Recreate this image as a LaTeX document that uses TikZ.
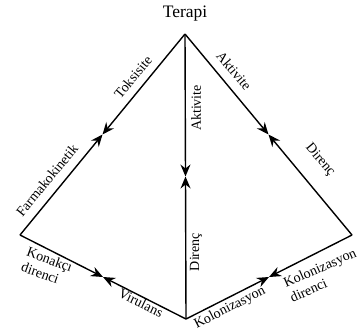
\documentclass[tikz,border=0pt]{standalone}
\usepackage{fontspec}
\setmainfont{Liberation Serif}
\usetikzlibrary{arrows.meta,calc}
\begin{document}
\begin{tikzpicture}[x=1pt,y=-1pt,
  edge/.style={line width=1.4pt},
  arw/.style={edge,-{Stealth[length=12pt,width=10pt,inset=4pt]}},
  lbl/.style={font=\fontsize{14}{16}\selectfont,inner sep=0pt},
  ttl/.style={font=\fontsize{17.5}{20}\selectfont,inner sep=0pt}]
\useasboundingbox (0,0) rectangle (358,330);
\coordinate (T) at (185,34);
\coordinate (L) at (20,235);
\coordinate (B) at (186,319);
\coordinate (R) at (352,235);
\coordinate (mTL) at ($(T)!0.5!(L)$);
\coordinate (mTR) at ($(T)!0.5!(R)$);
\coordinate (mTB) at ($(T)!0.5!(B)$);
\coordinate (mLB) at ($(L)!0.5!(B)$);
\coordinate (mBR) at ($(B)!0.5!(R)$);
\draw[arw] (T) -- (mTL);
\draw[arw] (L) -- (mTL);
\draw[arw] (T) -- (mTR);
\draw[arw] (R) -- (mTR);
\draw[arw] (T) -- (mTB);
\draw[arw] (B) -- (mTB);
\draw[arw] (L) -- (mLB);
\draw[arw] (B) -- (mLB);
\draw[arw] (B) -- (mBR);
\draw[arw] (R) -- (mBR);
\node[ttl] (terapi) at (185,14) {Terapi};
\node[lbl,rotate=50.5] (tok) at (133,77) {Toksisite};
\node[lbl,rotate=50.5] (far) at (47,180) {Farmakokinetik};
\node[lbl,rotate=-50] (akt1) at (234,71) {Aktivite};
\node[lbl,rotate=-50] (dir1) at (320,160) {Direnç};
\node[lbl,rotate=90] (akt2) at (196,108) {Aktivite};
\node[lbl,rotate=90] (dir2) at (196,252) {Direnç};
\node[lbl,rotate=-20,align=left] (kon) at (47,267) {Konakçı\\direnci};
\node[lbl,rotate=-26] (vir) at (141,303) {Virulans};
\node[lbl,rotate=27] (kol) at (230,308) {Kolonizasyon};
\node[lbl,rotate=24,align=left] (kold) at (323,275) {Kolonizasyon\\direnci};
\end{tikzpicture}
\end{document}
